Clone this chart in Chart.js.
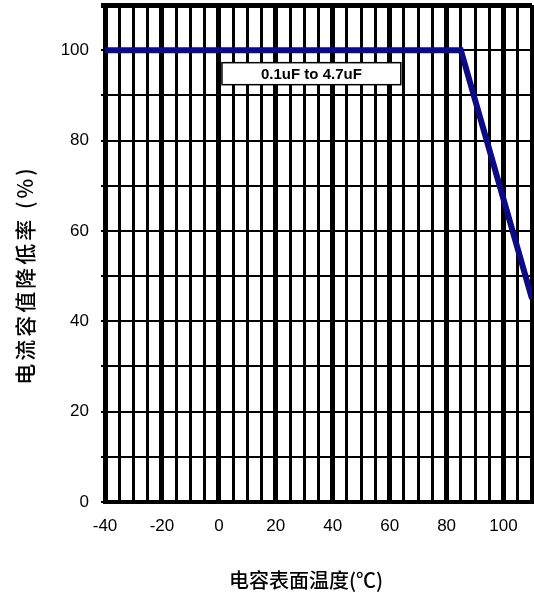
<!DOCTYPE html>
<html>
<head>
<meta charset="utf-8">
<script src="https://cdn.jsdelivr.net/npm/chart.js@4"></script>
<style>
  body { margin: 0; background: #fff; }
</style>
</head>
<body>
<canvas id="chart" width="534" height="600"></canvas>
<script>
// derating curve
const tempC = [-40, 85, 110];
const ratePct = [100, 100, 45];

const yTicks = [0, 20, 40, 60, 80, 100];
const xTicks = [-40, -20, 0, 20, 40, 60, 80, 100];

const xTitle = "电容表面温度(℃)";
const yTitle = "电流容值降低率 (%)";
const boxText = "0.1uF to 4.7uF";
const boxAt = { x: 32.5, y: 94.8 };

const FONT = "'Liberation Sans', Arial, sans-serif";
const CJK = "'Noto Sans CJK SC', sans-serif";

// label box drawn at data coords
const labelBox = {
  id: "labelBox",
  afterDatasetsDraw(chart) {
    const ctx = chart.ctx;
    const px = chart.scales.x.getPixelForValue(boxAt.x);
    const py = chart.scales.y.getPixelForValue(boxAt.y);
    ctx.save();
    ctx.font = "bold 15px " + FONT;
    const w = ctx.measureText(boxText).width + 78;
    const h = 22;
    ctx.fillStyle = "#fff";
    ctx.fillRect(px - w / 2, py - h / 2, w, h);
    ctx.strokeStyle = "#000";
    ctx.lineWidth = 1.5;
    ctx.strokeRect(px - w / 2, py - h / 2, w, h);
    ctx.fillStyle = "#000";
    ctx.textAlign = "center";
    ctx.textBaseline = "middle";
    ctx.fillText(boxText, px, py + 1);
    ctx.restore();
  }
};

// axis titles, placed like the original (a bit off centre)
const axisTitles = {
  id: "axisTitles",
  afterDraw(chart) {
    const ctx = chart.ctx;
    ctx.save();
    ctx.fillStyle = "#000";
    ctx.textAlign = "center";
    ctx.textBaseline = "middle";
    ctx.font = "500 20px " + CJK;
    ctx.fillText(xTitle, 306, 580);
    ctx.translate(25, 275);
    ctx.rotate(-Math.PI / 2);
    ctx.font = "500 21px " + CJK;
    ctx.letterSpacing = "3px";
    ctx.fillText(yTitle, 0, 0);
    ctx.restore();
  }
};

function main() {
  const ctx = document.getElementById("chart").getContext("2d");
  new Chart(ctx, {
    type: "scatter",
    data: {
      datasets: [{
        data: tempC.map((t, i) => ({ x: t, y: ratePct[i] })),
        showLine: true,
        borderColor: "#0b0b85",
        borderWidth: 6,
        pointRadius: 0,
        fill: false
      }]
    },
    options: {
      responsive: false,
      devicePixelRatio: 1,
      animation: false,
      layout: { padding: { top: 5, right: 2, left: 0, bottom: 0 } },
      plugins: {
        legend: { display: false },
        tooltip: { enabled: false }
      },
      scales: {
        x: {
          type: "linear",
          min: -40,
          max: 110,
          afterFit: (s) => { s.height = 98; s.paddingLeft = 0; s.paddingRight = 0; },
          afterBuildTicks: (s) => {
            const t = [];
            for (let v = -40; v <= 110; v += 5) t.push({ value: v });
            s.ticks = t;
          },
          grid: {
            color: "#000",
            lineWidth: (c) => (c.tick && (c.tick.value % 20 === 0 || c.tick.value === 110)) ? 5 : 3,
            drawTicks: false
          },
          border: { display: true, color: "#000", width: 4 },
          ticks: {
            autoSkip: false,
            maxRotation: 0,
            padding: 14,
            color: "#000",
            font: { family: FONT, size: 17 },
            callback: (v) => xTicks.includes(v) ? String(v) : ""
          },
          title: { display: false }
        },
        y: {
          min: 0,
          max: 110,
          afterFit: (s) => { s.width = 105; s.paddingTop = 0; s.paddingBottom = 0; },
          afterBuildTicks: (s) => {
            const t = [];
            for (let v = 0; v <= 110; v += 10) t.push({ value: v });
            s.ticks = t;
          },
          grid: {
            color: "#000",
            lineWidth: (c) => (c.tick && c.tick.value === 110) ? 5 : 2,
            tickLength: 4
          },
          border: { display: true, color: "#000", width: 4 },
          ticks: {
            autoSkip: false,
            padding: 12,
            color: "#000",
            font: { family: FONT, size: 17 },
            callback: (v) => yTicks.includes(v) ? String(v) : ""
          },
          title: { display: false }
        }
      }
    },
    plugins: [labelBox, axisTitles]
  });
}

main();
</script>
</body>
</html>
